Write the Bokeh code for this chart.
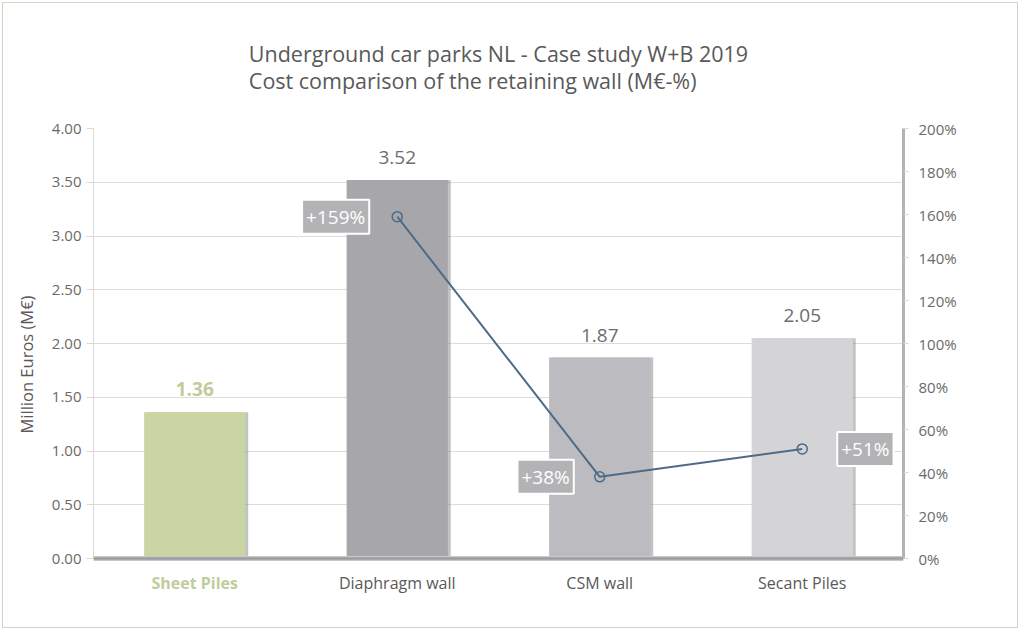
from bokeh.plotting import figure
from bokeh.models import (ColumnDataSource, LinearAxis, Range1d, LabelSet, Label, Title, Span,
                          NumeralTickFormatter, PrintfTickFormatter, FactorRange)
from bokeh.transform import dodge
from bokeh.core.properties import value
from bokeh.embed import file_html
from bokeh.resources import INLINE

# ---- data ----
categories = ["Sheet Piles", "Diaphragm wall", "CSM wall", "Secant Piles"]
costs = [1.36, 3.52, 1.87, 2.05]
pct_categories = ["Diaphragm wall", "CSM wall", "Secant Piles"]
pct_values = [159, 38, 51]
y_ticks = [0.0, 0.5, 1.0, 1.5, 2.0, 2.5, 3.0, 3.5, 4.0]
pct_ticks = [0, 20, 40, 60, 80, 100, 120, 140, 160, 180, 200]
title_text = ("Underground car parks NL - Case study W+B 2019\n"
              "Cost comparison of the retaining wall (M€-%)")

# ---- styles ----
FONT = "Open Sans"
TXT = "#595959"
TICK_TXT = "#6a6a6a"
bar_colors = ["#c9d6a4", "#a7a7ab", "#bcbcc0", "#d4d4d7"]
value_colors = ["#bfcd97", "#6e6e6e", "#6e6e6e", "#6e6e6e"]
value_styles = ["bold", "normal", "normal", "normal"]
cat_colors = ["#bfcc9c", "#595959", "#595959", "#595959"]
cat_styles = ["bold", "normal", "normal", "normal"]
pct_align = ["right", "right", "left"]
pct_xoff = [-28, -26, 35]
LINE_COLOR = "#4d6b87"

bars = ColumnDataSource(dict(
    cat=categories, cost=costs, cost_txt=[f"{c:.2f}" for c in costs],
    color=bar_colors, vcolor=value_colors, vstyle=value_styles,
    ccolor=cat_colors, cstyle=cat_styles, base=[0.0] * len(categories),
))
pcts = ColumnDataSource(dict(cat=pct_categories, pct=pct_values))

# frame extends a little below zero so that the category labels sit inside it
Y_LOW = -0.39
p = figure(x_range=FactorRange(*categories), y_range=Range1d(Y_LOW, 4),
           width=1016, height=626, output_backend="svg", toolbar_location=None,
           min_border_left=90, min_border_right=116, min_border_top=125,
           min_border_bottom=29)
p.extra_y_ranges = {"pct": Range1d(Y_LOW * 50, 200)}
p.outline_line_color = None
p.background_fill_color = "white"
p.border_fill_color = "white"
p.styles = {"border": "1px solid #d2d5c4", "margin": "2px 0 0 2px"}

# title (two lines)
p.title = Title(text=title_text, align="center", text_font=FONT, text_font_size="21.5px",
                text_color=TXT, text_font_style="normal", text_line_height=0.95,
                standoff=62, vertical_align="top")

# grid
p.xgrid.grid_line_color = None
p.ygrid.grid_line_color = "#dcdcdc"
p.ygrid.ticker = y_ticks

# bars with soft shadow
p.vbar(x=dodge("cat", 0.014, range=p.x_range), top="cost", bottom=0, width=0.5, source=bars,
       fill_color="#7a7a7a", fill_alpha=0.45, line_color=None)
p.vbar(x="cat", top="cost", bottom=0, width=0.5, source=bars, fill_color="color", line_color=None)

# baseline (category axis line) with a faint shadow
p.add_layout(Span(location=0, dimension="width", line_color="#c8c8c8", line_width=5))
p.add_layout(Span(location=0, dimension="width", line_color="#9e9e9e", line_width=2.5))

# value labels
p.add_layout(LabelSet(x="cat", y="cost", text="cost_txt", source=bars, y_offset=16,
                      text_align="center", text_baseline="bottom", text_font=value(FONT),
                      text_font_size="19px", text_color="vcolor", text_font_style="vstyle",
                      background_fill_color="white"))

# category labels
p.add_layout(LabelSet(x="cat", y="base", text="cat", source=bars, y_offset=-13,
                      text_align="center", text_baseline="top", text_font=value(FONT),
                      text_font_size="16px", text_color="ccolor", text_font_style="cstyle"))
p.xaxis.visible = False

# left axis
p.yaxis.ticker = y_ticks
p.yaxis.bounds = (0, 4)
p.yaxis.formatter = NumeralTickFormatter(format="0.00")
p.yaxis.axis_label = "Million Euros (M€)"
p.yaxis.axis_label_text_font = FONT
p.yaxis.axis_label_text_font_size = "16.5px"
p.yaxis.axis_label_text_font_style = "normal"
p.yaxis.axis_label_text_color = TXT
p.yaxis.axis_label_standoff = 11
p.yaxis.major_label_text_font = FONT
p.yaxis.major_label_text_font_size = "15px"
p.yaxis.major_label_text_color = TICK_TXT
p.yaxis.axis_line_color = "#d9d9d9"
p.yaxis.major_tick_line_color = "#d9d9d9"
p.yaxis.major_tick_out = 7
p.yaxis.major_tick_in = 0
p.yaxis.minor_tick_line_color = None
p.yaxis.major_label_standoff = 5

# right axis
ra = LinearAxis(y_range_name="pct", ticker=pct_ticks, bounds=(0, 200),
                formatter=PrintfTickFormatter(format="%d%%"))
ra.major_label_text_font = FONT
ra.major_label_text_font_size = "15px"
ra.major_label_text_color = TICK_TXT
ra.axis_line_color = "#b3b3b3"
ra.axis_line_width = 3
ra.major_tick_line_color = "#d9d9d9"
ra.major_tick_out = 5
ra.major_tick_in = 0
ra.minor_tick_line_color = None
ra.major_label_standoff = 10
p.add_layout(ra, "right")

# percentage line
p.line(x="cat", y="pct", source=pcts, y_range_name="pct", line_color=LINE_COLOR, line_width=2)
p.scatter(x="cat", y="pct", source=pcts, y_range_name="pct", marker="circle", size=10,
          fill_color=None, line_color=LINE_COLOR, line_width=1.5)
# boxed percentage labels: factor i sits at synthetic coordinate i + 0.5 on the FactorRange
for cat, v, al, xo in zip(pct_categories, pct_values, pct_align, pct_xoff):
    xc = categories.index(cat) + 0.5
    p.add_layout(Label(x=xc, y=v, text=f"+{v}%", y_range_name="pct",
                       x_offset=xo, text_align=al, text_baseline="middle",
                       text_font=FONT, text_font_size="19px", text_color="white",
                       background_fill_color="#b3b3b6", border_line_color="white",
                       border_line_width=2, padding=4))

open("out.html", "w").write(file_html(p, INLINE))
